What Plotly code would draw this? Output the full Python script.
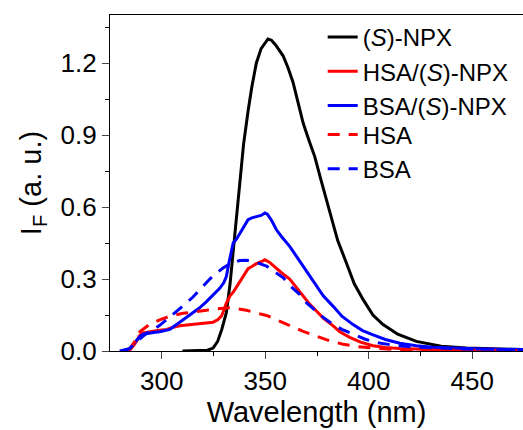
import plotly.graph_objects as go

# (S)-NPX
npx_x = [310, 318, 322, 324.8, 327, 329, 331.2, 333, 334.5, 336, 337.7, 339.5, 341.7, 343.5, 345.7, 348, 351.3, 353, 355, 358.6, 361, 363.4, 366, 368.3, 371, 373.9, 377, 381.2, 385, 389.2, 393, 397.3, 402, 406.9, 414, 423, 435, 447, 460, 475]
npx_y = [0.0, 0.0, 0.003, 0.012, 0.04, 0.09, 0.16, 0.28, 0.42, 0.56, 0.70, 0.86, 1.0, 1.1, 1.2, 1.26, 1.30, 1.295, 1.275, 1.23, 1.18, 1.12, 1.03, 0.95, 0.88, 0.81, 0.71, 0.575, 0.46, 0.367, 0.28, 0.214, 0.15, 0.11, 0.07, 0.04, 0.02, 0.012, 0.008, 0.006]

# HSA/(S)-NPX
hsa_npx_x = [281, 285, 287, 289.4, 291, 293.9, 298, 302.4, 305, 308.7, 312, 315.1, 320, 324.8, 327, 328.8, 330, 331.2, 333, 334.5, 336, 337.7, 340, 341.7, 343.5, 345.7, 348, 349.8, 352, 355.4, 358, 361.8, 365, 368.3, 371, 374.7, 378, 382.8, 386, 390.8, 396, 402.1, 408, 415, 423, 431, 450, 475]
hsa_npx_y = [0.0, 0.008, 0.03, 0.065, 0.075, 0.08, 0.085, 0.09, 0.098, 0.105, 0.108, 0.11, 0.114, 0.12, 0.13, 0.145, 0.17, 0.2, 0.23, 0.245, 0.265, 0.288, 0.32, 0.343, 0.352, 0.364, 0.372, 0.38, 0.37, 0.343, 0.325, 0.30, 0.265, 0.23, 0.20, 0.167, 0.137, 0.105, 0.08, 0.057, 0.037, 0.022, 0.015, 0.01, 0.007, 0.006, 0.005, 0.004]

# BSA/(S)-NPX
bsa_npx_x = [279.7, 284.5, 287, 289.4, 291, 293.4, 296, 299, 301, 303.9, 306, 308.7, 312, 315.1, 318, 321.6, 325, 328, 330, 331.2, 332.5, 334.5, 336, 337.7, 340, 341.7, 343.5, 345.7, 348, 349.8, 351, 353, 355.4, 358, 361.8, 365, 368.3, 371, 374.7, 378, 382.8, 387, 392.4, 397, 402.1, 408, 415, 423, 431, 445, 455, 475]
bsa_npx_y = [0.0, 0.01, 0.035, 0.06, 0.07, 0.074, 0.077, 0.08, 0.083, 0.09, 0.103, 0.12, 0.137, 0.157, 0.178, 0.206, 0.235, 0.261, 0.285, 0.31, 0.37, 0.45, 0.465, 0.49, 0.52, 0.547, 0.555, 0.56, 0.565, 0.575, 0.57, 0.545, 0.505, 0.475, 0.436, 0.395, 0.353, 0.315, 0.27, 0.23, 0.186, 0.145, 0.11, 0.085, 0.067, 0.048, 0.032, 0.022, 0.016, 0.011, 0.008, 0.006]

# HSA
hsa_x = [284, 287, 289.4, 294, 299, 304, 310.3, 316, 321.6, 327, 332.8, 336, 340.9, 345, 350.6, 356, 361.8, 368, 374.7, 381, 387.6, 395, 402, 412, 423, 440, 475]
hsa_y = [0.0, 0.04, 0.08, 0.11, 0.13, 0.145, 0.157, 0.165, 0.17, 0.176, 0.18, 0.177, 0.17, 0.16, 0.148, 0.128, 0.105, 0.083, 0.062, 0.043, 0.028, 0.018, 0.012, 0.007, 0.005, 0.003, 0.002]

# BSA
bsa_x = [281, 284.5, 288, 292.6, 296, 299, 303, 307.1, 311, 315.1, 319, 323.2, 326.5, 329.6, 333, 337.7, 341, 344.1, 347, 350.6, 354, 358.6, 362, 366.6, 370, 374.7, 378, 382.8, 387, 392.4, 398, 403.7, 412, 423, 435, 447, 460, 475]
bsa_y = [0.0, 0.01, 0.04, 0.074, 0.09, 0.107, 0.135, 0.163, 0.193, 0.225, 0.262, 0.3, 0.325, 0.346, 0.363, 0.377, 0.378, 0.374, 0.365, 0.354, 0.333, 0.306, 0.272, 0.236, 0.2, 0.167, 0.14, 0.111, 0.09, 0.07, 0.05, 0.035, 0.024, 0.016, 0.011, 0.008, 0.007, 0.006]

x_ticks = [300, 350, 400, 450]
y_ticks = [0.0, 0.3, 0.6, 0.9, 1.2]
y_tick_text = ["0.0", "0.3", "0.6", "0.9", "1.2"]

FONT = "Liberation Sans, Arial, sans-serif"

fig = go.Figure()
series = [
    (npx_x, npx_y, "(<i>S</i>)-NPX", "black", "solid", "legend"),
    (hsa_npx_x, hsa_npx_y, "HSA/(<i>S</i>)-NPX", "#ff0000", "solid", "legend"),
    (bsa_npx_x, bsa_npx_y, "BSA/(<i>S</i>)-NPX", "#0000ff", "solid", "legend"),
    (hsa_x, hsa_y, "HSA", "#ff0000", "12px,9px", "legend2"),
    (bsa_x, bsa_y, "BSA", "#0000ff", "12px,9px", "legend2"),
]
for xs, ys, name, color, dash, lg in series:
    fig.add_trace(go.Scatter(x=xs, y=ys, mode="lines", name=name, legend=lg,
                             line=dict(color=color, width=3, dash=dash)))

legend_common = dict(xanchor="left", yanchor="top", bgcolor="rgba(0,0,0,0)",
                     font=dict(size=24, family=FONT), tracegroupgap=0,
                     itemwidth=30, traceorder="normal")

fig.update_layout(
    width=523, height=430,
    margin=dict(l=110, r=0, t=15, b=79, autoexpand=False),
    paper_bgcolor="white", plot_bgcolor="white",
    font=dict(family=FONT, color="black", size=22),
    showlegend=True,
    legend=dict(x=0.515, y=1.0, **legend_common),
    legend2=dict(x=0.515, y=0.71, **legend_common),
    xaxis=dict(range=[275, 474.5], tickvals=x_ticks, ticks="outside", ticklen=7, tickwidth=1.3,
               showline=True, linecolor="black", linewidth=1.3, mirror=True,
               showgrid=False, zeroline=False, automargin=False,
               minor=dict(tickvals=[325, 375, 425], ticks="outside", ticklen=4, tickcolor="black", tickwidth=1.3),
               tickfont=dict(size=26, family=FONT),
               title=dict(text="Wavelength (nm)", font=dict(size=29, family=FONT), standoff=4)),
    yaxis=dict(range=[0, 1.4], tickvals=y_ticks, ticktext=y_tick_text, ticks="outside", ticklen=7, tickwidth=1.3,
               showline=True, linecolor="black", linewidth=1.3,
               showgrid=False, zeroline=False, automargin=False,
               minor=dict(tickvals=[0.15, 0.45, 0.75, 1.05, 1.35], ticks="outside", ticklen=4, tickcolor="black", tickwidth=1.3),
               tickfont=dict(size=26, family=FONT),
               title=dict(text="I<sub>F</sub> (a. u.)", font=dict(size=29, family=FONT), standoff=10)),
)

fig.write_html("out.html", config={"displayModeBar": False},
               post_script="document.body.style.margin='0';document.body.style.overflow='hidden';")
